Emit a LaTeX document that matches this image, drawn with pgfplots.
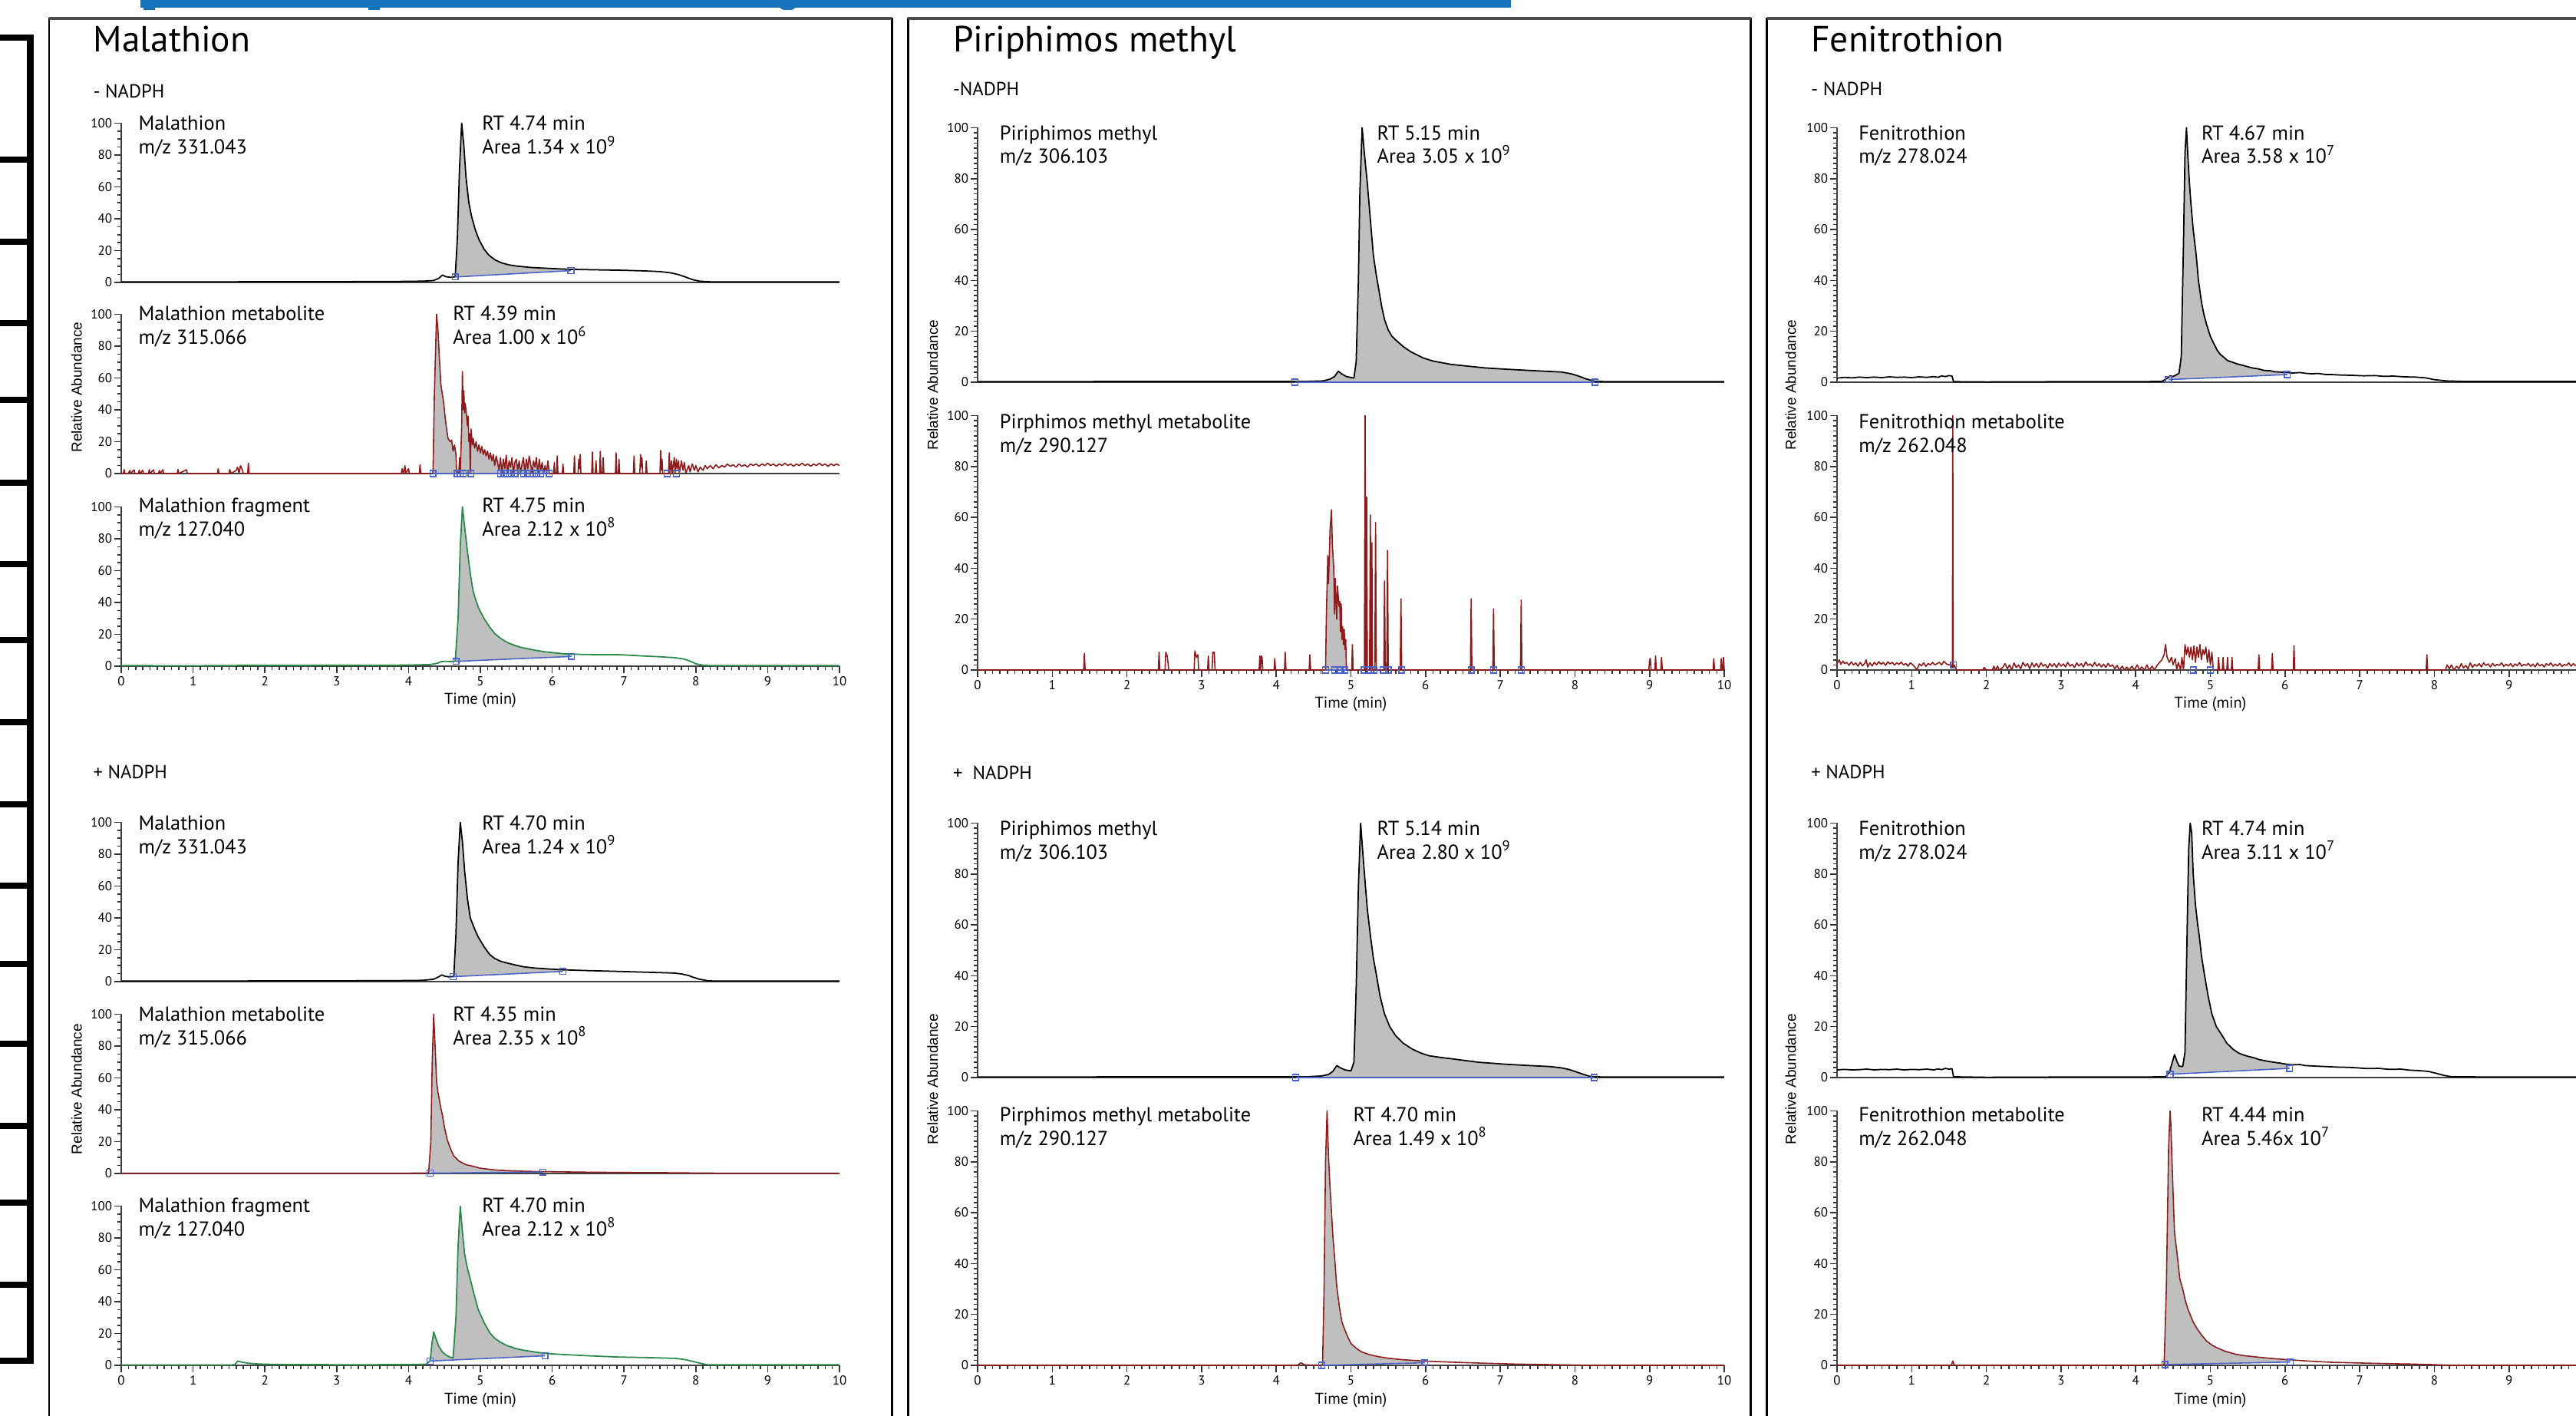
\documentclass[border=0pt]{standalone}
\usepackage{fontspec}
\setmainfont{PT Sans}
\newfontfamily\libsans{Liberation Sans}
\usepackage{pgfplots}
\pgfplotsset{compat=1.18}
\usepgfplotslibrary{fillbetween}
\definecolor{topblue}{HTML}{1473BA}
\definecolor{dred}{HTML}{8E1B1B}
\definecolor{dgrn}{HTML}{2A8A4A}
\definecolor{pkgray}{HTML}{BFBFBF}
\definecolor{mblue}{HTML}{4B63C6}
\newcommand\ttlfont{\fontsize{13.5}{16}\selectfont}
\newcommand\annfont{\fontsize{7.5}{9}\selectfont}
\newcommand\nadfont{\fontsize{7}{8}\selectfont}
\newcommand\tickfont{\fontsize{4.8}{5.5}\selectfont}
\newcommand\timefont{\fontsize{5.8}{7}\selectfont}
\newcommand\rafont{\libsans\fontsize{5.4}{6}\selectfont}

\pgfplotsset{
  chrom/.style={
    scale only axis, anchor=south west,
    xmin=0, xmax=10, ymin=0, ymax=100,
    axis x line*=bottom, axis y line*=left,
    axis line style={draw=black!75, line width=0.8pt},
    ytick={0,20,...,100},
    tick align=outside,
    major tick length=0.095cm, minor tick length=0.055cm,
    every tick/.style={black!80, line width=0.45pt},
    /pgf/number format/assume math mode=true,
    yticklabel style={font=\tickfont, inner sep=0.5pt},
    xticklabel style={font=\tickfont, inner sep=1pt},
    clip=false, set layers,
  },
  p1/.style={chrom, width=9.36cm, height=2.075cm, minor y tick num=3},
  p23/.style={chrom, width=9.73cm, height=3.315cm, minor y tick num=9},
  nox/.style={xtick=\empty},
  botx/.style={xtick={0,...,10}, minor x tick num=9, xlabel={Time (min)},
    xlabel style={font=\timefont, at={(axis description cs:0.5,0)}, anchor=center, yshift=-0.45cm}},
  cut10/.style={xticklabels={0,1,2,3,4,5,6,7,8,9,{}}},
  blk/.style={black, line width=0.5pt, line join=round},
  rd/.style={draw=dred, line width=0.45pt, line join=round},
  gr/.style={draw=dgrn, line width=0.5pt, line join=round},
  bl/.style={draw=mblue, line width=0.45pt, mark=square, mark size=1.1pt,
    mark options={solid, draw=mblue, line width=0.4pt, fill=none}},
  blm/.style={only marks, mark=square, mark size=1.1pt,
    mark options={solid, draw=mblue, line width=0.4pt, fill=none}},
  pk/.style={fill=pkgray, draw=none},
}

\begin{document}
\begin{tikzpicture}

% ================= Panel 1: Malathion =================
% - NADPH, parent
\begin{axis}[p1, nox, at={(1.58cm,14.77cm)}]
\addplot[blk, name path=tr] coordinates {(0,0.3)(0.5,0.3)(1,0.35)(1.6,0.4)(2,0.5)(3,0.5)(3.8,0.6)(4.2,0.8)(4.35,1.2)(4.42,2.5)(4.47,4.6)(4.52,3.6)(4.58,3.2)(4.65,3.5)(4.68,28)(4.71,72)(4.74,100)(4.77,86)(4.8,66)(4.84,50)(4.88,41)(4.93,33)(4.98,27)(5.05,21)(5.12,17)(5.21,14)(5.3,12.2)(5.4,11)(5.5,10.3)(5.7,9.4)(6.0,8.7)(6.26,8.2)(6.5,8.0)(7.0,7.6)(7.3,7.2)(7.5,6.8)(7.65,6)(7.75,5)(7.85,3.5)(7.95,1.8)(8.05,0.8)(8.2,0.4)(9,0.4)(10,0.4)};
\addplot[bl, name path=bs] coordinates {(4.65,3.4)(6.26,7.4)};
\addplot[pk] fill between[of=tr and bs, soft clip={domain=4.65:6.26}];
\end{axis}
% - NADPH, metabolite
\begin{axis}[p1, nox, at={(1.58cm,12.28cm)}]
\addplot[rd, name path=tr] coordinates {(0,0)(0.03,0)(0.04,2.5)(0.05,0)(0.1,0)(0.12,2)(0.13,0)(0.18,2.3)(0.19,0)(0.24,0)(0.25,2.2)(0.26,0)(0.3,2)(0.31,0)(0.38,0)(0.39,2.5)(0.4,0)(0.45,2.3)(0.46,0)(0.52,0)(0.53,2)(0.54,0)(0.58,2.4)(0.59,0)(0.78,0)(0.79,2.5)(0.8,0)(0.91,2.4)(0.92,0)(1.34,0)(1.35,3)(1.36,0)(1.5,0)(1.51,2.5)(1.53,0)(1.6,2)(1.62,4)(1.64,0)(1.66,5)(1.68,3)(1.7,0)(1.76,0)(1.77,6.5)(1.78,0)(3.9,0)(3.91,3)(3.93,0)(3.95,5)(3.96,0)(4.0,3)(4.01,0)(4.15,0)(4.16,5.5)(4.17,0)(4.34,0)(4.36,50)(4.39,100)(4.41,90)(4.43,72)(4.45,56)(4.47,50)(4.49,44)(4.51,35)(4.53,28)(4.55,22)(4.58,20)(4.6,21)(4.62,14)(4.64,18)(4.66,12)(4.67,0)(4.7,0)(4.71,10)(4.72,0)(4.74,30)(4.75,64)(4.76,40)(4.77,52)(4.78,38)(4.79,44)(4.8,40)(4.82,30)(4.83,36)(4.84,20)(4.85,25)(4.86,0)(4.87,28)(4.89,18)(4.9,22)(4.92,16)(4.94,20)(4.96,14)(4.98,18)(5.0,13)(5.02,17)(5.04,12)(5.06,15)(5.08,11)(5.1,14)(5.12,9)(5.14,13)(5.16,8)(5.18,12)(5.2,5)(5.22,11)(5.24,7)(5.26,2)(5.28,10)(5.3,0)(5.32,9)(5.34,3)(5.36,11.5)(5.38,0)(5.4,8)(5.42,4)(5.44,10)(5.46,0)(5.48,7)(5.5,9)(5.52,2)(5.54,8)(5.56,0)(5.58,6)(5.6,10)(5.62,0)(5.64,9)(5.66,3)(5.68,11)(5.7,6)(5.72,0)(5.74,8)(5.76,4)(5.78,10)(5.8,0)(5.82,9)(5.84,2)(5.86,7)(5.88,0)(5.9,5)(5.92,0)(5.94,8)(5.96,0)(6.02,0)(6.03,7)(6.04,0)(6.06,0)(6.07,11)(6.08,0)(6.14,0)(6.15,6)(6.16,0)(6.3,0)(6.31,11)(6.32,0)(6.36,0)(6.37,9)(6.38,3)(6.39,12)(6.4,0)(6.55,0)(6.56,13.5)(6.57,0)(6.6,0)(6.61,8)(6.62,0)(6.66,0)(6.67,14)(6.68,0)(6.7,0)(6.71,10)(6.72,0)(6.88,0)(6.89,13)(6.9,0)(6.92,0)(6.93,9)(6.94,0)(7.13,0)(7.14,11)(7.15,0)(7.22,0)(7.23,12)(7.24,4)(7.25,10)(7.26,0)(7.3,0)(7.31,8)(7.32,0)(7.5,0)(7.51,14.5)(7.52,2)(7.53,9)(7.54,0)(7.62,0)(7.63,13)(7.64,0)(7.66,8)(7.67,0)(7.7,10)(7.71,0)(7.73,9)(7.74,3)(7.76,8)(7.77,0)(7.8,8)(7.82,2)(7.84,7)(7.86,0)(7.9,5)(7.92,1)(7.95,6)(7.98,2)(8.0,5)(8.03,1)(8.06,4)(8.1,2)(8.13,5)(8.16,3)(8.2,5)(8.24,3)(8.28,5.5)(8.32,3.5)(8.36,5)(8.4,4)(8.44,6)(8.48,4.5)(8.52,5.5)(8.56,4)(8.6,6)(8.64,4.5)(8.68,5.5)(8.72,4)(8.76,6)(8.8,5)(8.84,6)(8.88,4.5)(8.92,6)(8.96,5)(9.0,6.5)(9.04,5)(9.08,6)(9.12,4.5)(9.16,6)(9.2,5)(9.24,6.5)(9.28,5)(9.32,6)(9.36,4.5)(9.4,6)(9.44,5)(9.48,6.5)(9.52,5)(9.56,6)(9.6,4.5)(9.64,6)(9.68,5)(9.72,6.5)(9.76,5)(9.8,6)(9.84,4.5)(9.88,6)(9.92,5)(9.96,6)(10,5)};
\addplot[bl, name path=bs] coordinates {(4.34,0)(4.68,0)(4.72,0)(4.76,0)(4.87,0)(5.28,0)(5.33,0)(5.38,0)(5.43,0)(5.48,0)(5.6,0)(5.66,0)(5.72,0)(5.78,0)(5.84,0)(5.96,0)};
\addplot[blm] coordinates {(7.6,0)(7.73,0)};
\addplot[pk] fill between[of=tr and bs, soft clip={domain=4.34:5.96}];
\end{axis}
% - NADPH, fragment
\begin{axis}[p1, botx, at={(1.58cm,9.77cm)}]
\addplot[gr, name path=tr] coordinates {(0,0.3)(0.4,0.3)(0.8,0.2)(1.2,0.3)(1.6,0.3)(1.62,0.6)(2,0.5)(2.5,0.5)(3,0.6)(3.5,0.5)(4,0.7)(4.3,1.0)(4.4,1.8)(4.45,2.8)(4.5,3.0)(4.58,2.9)(4.65,3.1)(4.69,30)(4.72,75)(4.75,100)(4.78,88)(4.82,72)(4.86,58)(4.9,47)(4.94,41)(4.98,36)(5.05,30)(5.13,24.5)(5.2,20.5)(5.28,17.5)(5.37,15)(5.45,13.5)(5.55,12)(5.65,11)(5.76,10)(5.9,9)(6.05,8.3)(6.15,7.8)(6.3,7.5)(6.5,7.3)(6.7,7.2)(6.93,7.2)(7.1,6.8)(7.3,6.3)(7.5,5.9)(7.71,5.3)(7.82,4.6)(7.9,3.5)(8.0,1.5)(8.1,0.6)(8.2,0.3)(9,0.3)(10,0.3)};
\addplot[bl, name path=bs] coordinates {(4.66,3.0)(6.27,6.1)};
\addplot[pk] fill between[of=tr and bs, soft clip={domain=4.66:6.27}];
\end{axis}
% + NADPH, parent
\begin{axis}[p1, nox, at={(1.58cm,5.66cm)}]
\addplot[blk, name path=tr] coordinates {(0,0.3)(1,0.3)(1.6,0.35)(2,0.5)(3,0.5)(3.8,0.6)(4.2,0.8)(4.35,1.5)(4.42,3.0)(4.46,4.2)(4.51,3.3)(4.57,3.0)(4.63,3.2)(4.66,30)(4.69,75)(4.72,100)(4.75,88)(4.78,70)(4.82,52)(4.86,40)(4.92,33)(4.97,28)(5.05,22)(5.13,17)(5.2,14.5)(5.28,12.8)(5.37,11.7)(5.5,10.3)(5.6,9.3)(5.76,8.5)(6.0,7.8)(6.15,7.4)(6.5,6.9)(6.93,6.4)(7.3,5.9)(7.6,5.5)(7.71,5.3)(7.8,4.8)(7.9,3.8)(7.95,2.9)(8.05,1.5)(8.17,0.5)(8.3,0.3)(9,0.3)(10,0.3)};
\addplot[bl, name path=bs] coordinates {(4.62,3.1)(6.15,6.4)};
\addplot[pk] fill between[of=tr and bs, soft clip={domain=4.62:6.15}];
\end{axis}
% + NADPH, metabolite
\begin{axis}[p1, nox, at={(1.58cm,3.16cm)}]
\addplot[rd, name path=tr] coordinates {(0,0.2)(1,0.2)(2,0.2)(3,0.2)(4,0.2)(4.28,0.3)(4.31,20)(4.33,70)(4.35,100)(4.37,80)(4.39,58)(4.41,51)(4.43,46)(4.45,41)(4.47,37)(4.5,29)(4.54,21)(4.58,16)(4.63,11)(4.7,7.8)(4.8,5.5)(4.9,4.5)(5.0,3.3)(5.2,2.2)(5.4,1.7)(5.6,1.4)(5.84,1.2)(6.15,1.0)(6.5,0.8)(7.0,0.6)(7.5,0.5)(8.0,0.3)(8.3,0.2)(9,0.2)(10,0.2)};
\addplot[bl, name path=bs] coordinates {(4.3,0.2)(5.87,0.9)};
\addplot[pk] fill between[of=tr and bs, soft clip={domain=4.3:5.87}];
\end{axis}
% + NADPH, fragment
\begin{axis}[p1, botx, at={(1.58cm,0.66cm)}]
\addplot[gr, name path=tr] coordinates {(0,0.2)(0.8,0.2)(1.58,0.3)(1.62,2.7)(1.7,1.8)(1.8,1.2)(1.9,0.9)(2.0,0.7)(2.3,0.5)(3,0.4)(3.5,0.4)(4,0.5)(4.25,0.7)(4.3,3)(4.33,15)(4.35,21)(4.38,17)(4.42,12)(4.47,8.5)(4.52,6.5)(4.57,5.3)(4.62,4.6)(4.66,30)(4.69,75)(4.72,100)(4.75,84)(4.78,70)(4.82,61)(4.86,54)(4.91,45)(4.97,35)(5.05,27)(5.13,20.5)(5.2,17)(5.28,14.5)(5.37,12.4)(5.5,10.5)(5.6,9.5)(5.76,8.4)(5.9,7.5)(6.15,6.8)(6.5,6.0)(6.93,5.2)(7.3,4.9)(7.71,4.4)(7.85,3.6)(8.0,2.0)(8.1,0.9)(8.17,0.3)(9,0.3)(10,0.3)};
\addplot[bl, name path=bs] coordinates {(4.3,2.7)(5.9,6.0)};
\addplot[pk] fill between[of=tr and bs, soft clip={domain=4.3:5.9}];
\end{axis}

% ================= Panel 2: Piriphimos methyl =================
\begin{axis}[p23, nox, at={(12.74cm,13.47cm)}]
\addplot[blk, name path=tr] coordinates {(0,0.2)(1,0.2)(2,0.3)(3,0.3)(4,0.3)(4.4,0.3)(4.63,0.5)(4.72,1.2)(4.78,2.2)(4.83,4.3)(4.88,3.2)(4.94,2.2)(5.04,1.6)(5.07,8)(5.1,40)(5.12,75)(5.15,100)(5.18,90)(5.22,78)(5.26,64)(5.3,50)(5.34,42)(5.37,37)(5.41,30)(5.45,24.6)(5.5,20.5)(5.55,18)(5.6,16.6)(5.7,14)(5.8,12)(5.9,10.5)(5.97,9.5)(6.1,8.3)(6.34,7)(6.6,6.2)(6.8,5.6)(7.08,5.1)(7.4,4.6)(7.6,4.3)(7.82,4)(7.95,3.3)(8.04,2.5)(8.15,1.3)(8.27,0.3)(8.5,0.2)(9,0.2)(10,0.2)};
\addplot[bl, name path=bs] coordinates {(4.25,0)(8.27,0)};
\addplot[pk] fill between[of=tr and bs, soft clip={domain=4.25:8.27}];
\end{axis}
\begin{axis}[p23, botx, at={(12.74cm,9.72cm)}]
\addplot[rd, name path=tr] coordinates {(0,0)(1.42,0)(1.43,6.5)(1.44,0)(2.42,0)(2.43,7)(2.44,0)(2.51,0)(2.52,7)(2.54,5.5)(2.56,0)(2.9,0)(2.91,7.5)(2.93,5)(2.95,6)(2.96,0)(3.08,0)(3.09,5.5)(3.1,0)(3.14,0)(3.15,7)(3.16,6.5)(3.17,7)(3.18,0)(3.77,0)(3.78,5.5)(3.79,0)(3.8,5.5)(3.81,5)(3.82,0)(3.97,0)(3.98,4.5)(3.99,0)(4.11,0)(4.12,7)(4.13,0)(4.44,0)(4.45,6)(4.46,0)(4.66,0)(4.67,20)(4.69,45)(4.7,34)(4.72,55)(4.74,63)(4.75,50)(4.77,40)(4.78,22)(4.79,36)(4.81,20)(4.82,33)(4.84,25)(4.85,27)(4.86,15)(4.87,26)(4.88,12)(4.89,17)(4.9,10)(4.91,16)(4.92,8)(4.93,12)(4.94,0)(5.01,0)(5.02,10)(5.03,0)(5.18,0)(5.19,100)(5.2,0)(5.21,68)(5.22,0)(5.25,0)(5.26,61)(5.27,0)(5.28,50)(5.29,0)(5.32,0)(5.33,58)(5.34,0)(5.44,0)(5.45,35)(5.46,0)(5.48,0)(5.49,47)(5.5,0)(5.66,0)(5.67,28)(5.68,0)(6.6,0)(6.61,28)(6.62,0)(6.9,0)(6.91,24)(6.92,0)(7.27,0)(7.28,27.5)(7.29,0)(8.99,0)(9.0,4)(9.01,4.5)(9.02,0)(9.07,0)(9.08,5.5)(9.09,0)(9.15,0)(9.16,5)(9.17,0)(9.85,0)(9.86,4.5)(9.87,0)(9.95,0)(9.96,4.5)(9.97,0)(9.98,0)(9.99,5)(10,0)};
\addplot[draw=mblue, line width=0.45pt, name path=bs] coordinates {(4.66,0)(4.94,0)};
\addplot[blm] coordinates {(4.66,0)(4.78,0)(4.86,0)(4.92,0)(5.18,0)(5.26,0)(5.31,0)(5.43,0)(5.5,0)(5.68,0)(6.61,0)(6.91,0)(7.28,0)};
\addplot[pk] fill between[of=tr and bs, soft clip={domain=4.66:4.94}];
\end{axis}
\begin{axis}[p23, nox, at={(12.74cm,4.41cm)}]
\addplot[blk, name path=tr] coordinates {(0,0.2)(1,0.2)(2,0.3)(3,0.3)(4,0.3)(4.4,0.3)(4.6,0.6)(4.7,1.2)(4.76,2.5)(4.81,4.7)(4.86,3.8)(4.92,3)(5.0,2.6)(5.04,6)(5.07,35)(5.1,75)(5.13,100)(5.16,88)(5.19,76.7)(5.22,66)(5.26,56)(5.3,47)(5.34,40.5)(5.39,32)(5.45,25)(5.52,20)(5.6,16.4)(5.7,13.5)(5.82,11.2)(5.93,9.7)(6.04,8.6)(6.2,7.9)(6.34,7.4)(6.5,6.8)(6.71,6)(6.9,5.6)(7.08,5.2)(7.4,4.7)(7.67,4.3)(7.82,3.8)(7.93,3.1)(8.04,2)(8.14,1)(8.22,0.3)(8.5,0.2)(9,0.2)(10,0.2)};
\addplot[bl, name path=bs] coordinates {(4.26,0)(8.26,0)};
\addplot[pk] fill between[of=tr and bs, soft clip={domain=4.26:8.26}];
\end{axis}
\begin{axis}[p23, botx, at={(12.74cm,0.66cm)}]
\addplot[rd, name path=tr] coordinates {(0,0)(1,0)(2,0)(3,0)(4,0)(4.28,0)(4.33,1)(4.38,0.2)(4.55,0)(4.62,0.2)(4.64,30)(4.66,80)(4.68,100)(4.7,82)(4.72,70)(4.74,60)(4.76,50)(4.78,43)(4.81,31)(4.85,22)(4.88,17)(4.92,13.8)(4.96,11)(5.0,8.6)(5.08,6.5)(5.15,5.2)(5.25,4.2)(5.37,3.4)(5.5,2.8)(5.7,2.2)(5.97,1.7)(6.3,1.3)(6.71,0.9)(7.2,0.5)(7.82,0.2)(8.2,0)(9,0)(10,0)};
\addplot[bl, name path=bs] coordinates {(4.61,0)(5.99,1.0)};
\addplot[pk] fill between[of=tr and bs, soft clip={domain=4.61:5.99}];
\end{axis}

% ================= Panel 3: Fenitrothion =================
\begin{axis}[p23, nox, at={(23.94cm,13.47cm)}]
\addplot[blk, name path=tr] coordinates {(0,1.6)(0.1,1.9)(0.2,1.7)(0.3,2.0)(0.4,1.8)(0.5,2.0)(0.6,1.8)(0.7,2.1)(0.8,1.9)(0.9,2.0)(1.0,1.8)(1.1,2.1)(1.2,1.9)(1.3,2.2)(1.35,1.9)(1.4,2.5)(1.45,2.2)(1.5,2.6)(1.54,2.4)(1.56,0.2)(2,0.1)(3,0.2)(4,0.2)(4.35,0.3)(4.42,1.5)(4.46,2.5)(4.5,2.2)(4.55,3)(4.58,3.5)(4.61,10)(4.64,55)(4.66,90)(4.68,100)(4.7,88)(4.72,78)(4.74,70)(4.77,60)(4.79,55)(4.81,50)(4.84,40)(4.88,31.7)(4.91,27)(4.95,22.6)(5.0,18)(5.04,15.5)(5.09,12.6)(5.13,11)(5.18,9.8)(5.23,8.5)(5.3,7.8)(5.38,7.0)(5.45,6.5)(5.52,5.9)(5.58,5.5)(5.65,5.2)(5.72,4.6)(5.8,4.5)(5.86,4.1)(5.92,4.0)(6.0,3.9)(6.1,3.6)(6.2,3.8)(6.27,3.5)(6.35,3.3)(6.45,3.4)(6.55,3.0)(6.62,3.0)(6.75,2.8)(6.9,2.7)(7.05,2.5)(7.2,2.6)(7.32,2.3)(7.45,2.4)(7.6,2.1)(7.75,2.0)(7.88,1.7)(8.0,1.0)(8.16,0.5)(8.4,0.3)(9,0.3)(10,0.3)};
\addplot[bl, name path=bs] coordinates {(4.44,1.0)(6.03,3.0)};
\addplot[pk] fill between[of=tr and bs, soft clip={domain=4.44:6.03}];
\end{axis}
\begin{axis}[p23, botx, cut10, at={(23.94cm,9.72cm)}]
\addplot[rd] coordinates {(0,2.5)(0.03,4)(0.05,2.2)(0.08,3.5)(0.1,2.5)(0.13,3)(0.16,1.8)(0.19,3.2)(0.22,2)(0.25,2.8)(0.28,1.5)(0.31,3)(0.34,1.6)(0.37,2.6)(0.39,4)(0.41,1.2)(0.44,2.8)(0.47,1.6)(0.5,3)(0.53,2)(0.56,3.3)(0.59,2.2)(0.62,3)(0.65,1.8)(0.68,3.2)(0.71,2.4)(0.74,3)(0.77,1.9)(0.8,2.8)(0.83,2.2)(0.86,3.1)(0.89,2)(0.92,2.6)(0.95,1.5)(0.98,2.8)(1.01,2.2)(1.04,1.2)(1.07,0)(1.1,2.4)(1.13,1.6)(1.16,2.8)(1.19,1.4)(1.22,2.6)(1.25,2)(1.28,3)(1.31,2)(1.34,2.5)(1.37,3)(1.4,2)(1.43,3.4)(1.46,2.5)(1.49,2)(1.52,2.2)(1.545,1)(1.55,100)(1.555,1)(1.57,2)(1.6,0)(1.95,0)(1.97,1)(2.0,0)(2.08,0)(2.1,1.5)(2.12,0)(2.15,1.5)(2.17,0)(2.22,1)(2.25,2.5)(2.28,0.5)(2.31,2)(2.34,0)(2.37,2.8)(2.4,1)(2.43,2)(2.46,0.5)(2.49,3)(2.52,1.5)(2.55,2.5)(2.58,0.5)(2.61,2.8)(2.64,1.2)(2.67,2.6)(2.7,1)(2.73,2.8)(2.76,1.5)(2.79,2.2)(2.82,0.8)(2.85,2.6)(2.88,1.4)(2.91,2.5)(2.94,1)(2.97,2.7)(3.0,1.5)(3.03,2.4)(3.06,1.2)(3.09,3)(3.12,1.5)(3.15,2.2)(3.18,1)(3.21,2.8)(3.24,1.6)(3.27,2.5)(3.3,1.2)(3.33,3.2)(3.36,1.8)(3.39,2.4)(3.42,1.3)(3.45,3)(3.48,1.5)(3.51,2.5)(3.54,1.2)(3.57,2.3)(3.6,1)(3.63,2.6)(3.66,1.4)(3.69,2)(3.72,0.5)(3.75,1.8)(3.78,0)(3.82,1.5)(3.85,0)(3.88,1.2)(3.91,0)(3.95,1.5)(3.98,0)(4.02,2)(4.05,0)(4.08,1.2)(4.12,0)(4.15,2)(4.18,0)(4.22,1.5)(4.25,0)(4.29,2)(4.32,3)(4.35,4)(4.38,6)(4.4,10)(4.42,5)(4.45,3)(4.48,5)(4.5,2)(4.53,4.5)(4.55,0)(4.57,3)(4.6,0)(4.62,5)(4.64,0)(4.66,10)(4.68,6)(4.7,9)(4.72,5)(4.74,9)(4.76,4)(4.78,9.5)(4.8,3)(4.82,9)(4.84,5)(4.86,10)(4.88,4)(4.9,8)(4.92,6)(4.94,9)(4.96,3)(4.98,8)(5.0,2)(5.02,7)(5.04,0)(5.1,0)(5.11,5)(5.12,0)(5.16,0)(5.17,5)(5.18,0)(5.22,0)(5.23,5)(5.24,0)(5.28,0)(5.29,5)(5.3,0)(5.64,0)(5.65,6)(5.66,0)(5.82,0)(5.83,6.5)(5.84,0)(6.11,0)(6.12,9.5)(6.13,0)(7.89,0)(7.9,6)(7.91,0)(8.15,0)(8.17,2)(8.2,0.5)(8.23,2)(8.26,0)(8.3,1.5)(8.33,0.5)(8.36,2.5)(8.39,0.8)(8.42,1.8)(8.45,0.5)(8.48,2.8)(8.51,1)(8.54,2.2)(8.57,1.5)(8.6,2.5)(8.63,1.2)(8.66,2.8)(8.69,1.8)(8.72,2.4)(8.75,1.2)(8.78,2.6)(8.81,1.5)(8.84,2.2)(8.87,1.8)(8.9,2.8)(8.93,1.4)(8.96,2.3)(8.99,1.6)(9.02,2.5)(9.05,1.3)(9.08,2.4)(9.11,1.7)(9.14,2.9)(9.17,1.5)(9.2,2.2)(9.23,1.8)(9.26,2.6)(9.29,1.4)(9.32,2.3)(9.35,1.2)(9.38,2.7)(9.41,1.6)(9.44,2.2)(9.47,1.2)(9.5,2.5)(9.53,1.8)(9.56,2.8)(9.59,1.5)(9.62,2.3)(9.65,1.6)(9.68,2.6)(9.71,1.4)(9.74,2.2)(9.77,1.8)(9.8,2.8)(9.83,1.5)(9.86,2.5)(9.89,1.7)(9.92,2.4)(9.95,1.5)(9.98,2.6)(10,2)};
\addplot[blm] coordinates {(1.56,2)(4.77,0)(5.0,0)};
\end{axis}
\begin{axis}[p23, nox, at={(23.94cm,4.41cm)}]
\addplot[blk, name path=tr] coordinates {(0,3.0)(0.1,3.2)(0.2,3.0)(0.3,3.1)(0.4,3.3)(0.5,3.0)(0.6,3.2)(0.7,3.1)(0.8,3.3)(0.9,3.0)(1.0,3.2)(1.1,3.1)(1.2,3.3)(1.3,3.0)(1.35,3.4)(1.4,3.1)(1.45,3.6)(1.5,3.3)(1.54,3.5)(1.56,0.3)(2,0.1)(3,0.2)(4,0.2)(4.4,0.3)(4.45,2)(4.49,6)(4.52,9)(4.55,6.5)(4.58,4.5)(4.63,4.3)(4.66,10)(4.69,60)(4.71,90)(4.73,100)(4.75,96)(4.77,80)(4.8,68)(4.83,60)(4.85,56)(4.88,48)(4.92,40.5)(4.97,32)(5.02,25)(5.08,20)(5.16,16.4)(5.22,13.5)(5.3,11.2)(5.38,9.6)(5.45,8.8)(5.52,8.2)(5.58,7.8)(5.66,7)(5.75,6.5)(5.85,6)(5.93,5.7)(6.0,5.3)(6.1,5.0)(6.2,5.1)(6.27,4.7)(6.4,4.5)(6.55,4.3)(6.7,4.1)(6.85,4.0)(6.97,3.8)(7.1,3.5)(7.25,3.6)(7.4,3.2)(7.55,3.3)(7.67,2.9)(7.8,2.7)(7.92,2.4)(8.02,1.7)(8.12,0.9)(8.23,0.3)(9,0.2)(10,0.2)};
\addplot[bl, name path=bs] coordinates {(4.46,1.3)(6.06,3.6)};
\addplot[pk] fill between[of=tr and bs, soft clip={domain=4.46:6.06}];
\end{axis}
\begin{axis}[p23, botx, cut10, at={(23.94cm,0.66cm)}]
\addplot[rd, name path=tr] coordinates {(0,0)(1,0)(1.53,0)(1.55,1.7)(1.57,0)(2,0)(3,0)(4,0)(4.38,0.2)(4.41,30)(4.44,85)(4.46,100)(4.47,95)(4.49,77)(4.51,60)(4.52,52)(4.55,45)(4.59,34)(4.63,30)(4.66,26)(4.7,22)(4.77,17)(4.82,14.5)(4.88,12)(4.95,9.5)(5.02,8)(5.09,6.9)(5.2,5.5)(5.35,4.3)(5.45,3.8)(5.58,3.4)(5.75,2.9)(5.9,2.5)(6.06,2.2)(6.3,1.7)(6.62,1.2)(6.9,1.0)(7.32,0.7)(7.7,0.5)(7.95,0.3)(8.23,0)(9,0)(10,0)};
\addplot[bl, name path=bs] coordinates {(4.39,0.3)(6.07,1.3)};
\addplot[pk] fill between[of=tr and bs, soft clip={domain=4.39:6.07}];
\end{axis}

% ---------- decorations and texts (pixel coordinates) ----------
\begin{scope}[x=0.01cm, y=-0.01cm, yshift=18.45cm]
  \fill[topblue] (183,0) rectangle (1970,10);
  \fill[topblue] (187,0) rectangle (202,13);
  \fill[topblue] (480,0) rectangle (495,13);
  \fill[topblue, rounded corners=2pt] (1016,-5) rectangle (1038,13);
  \fill[black] (35,45) rectangle (44,1778);
  \foreach \yy in {49,208,315,421,521,629,735,835,942,1049,1155,1257,1361,1468,1568,1675,1774}
    \fill[black] (0,\yy-4) rectangle (44,\yy+4);
  \draw[black, line width=0.7pt] (64,1860) -- (64,24) -- (1163,24) -- (1163,1860);
  \draw[black, line width=0.7pt] (1184,1860) -- (1184,24) -- (2283,24) -- (2283,1860);
  \draw[black, line width=0.7pt] (2304,1860) -- (2304,24) -- (3400,24);
  \draw[black!70, line width=0.9pt] (64,24) -- (1163,24) (1184,24) -- (2283,24) (2304,24) -- (3400,24);

  \tikzset{ttl/.style={anchor=base west, font=\ttlfont, inner sep=0pt},
           nad/.style={anchor=base west, font=\nadfont, inner sep=0pt},
           ann/.style={anchor=base west, font=\annfont, inner sep=0pt},
           ra/.style={rotate=90, anchor=center, font=\rafont, inner sep=0pt}}
  \node[ttl] at (121,68) {Malathion};
  \node[ttl] at (1242,68) {Piriphimos methyl};
  \node[ttl] at (2361,68) {Fenitrothion};
  \node[nad] at (121,128) {- NADPH};
  \node[nad] at (1242,125) {-NADPH};
  \node[nad] at (2361,125) {- NADPH};
  \node[nad] at (121,1015) {+ NADPH};
  \node[nad] at (1242,1016) {+\ \ NADPH};
  \node[nad] at (2361,1015) {+ NADPH};
  \node[ra] at (100,505) {Relative Abundance};
  \node[ra] at (100,1420) {Relative Abundance};
  \node[ra] at (1216,502) {Relative Abundance};
  \node[ra] at (1216,1407) {Relative Abundance};
  \node[ra] at (2335,502) {Relative Abundance};
  \node[ra] at (2335,1407) {Relative Abundance};
  \node[ann] at (180,170) {Malathion};            \node[ann] at (180,201) {m/z 331.043};
  \node[ann] at (628,170) {RT 4.74 min};          \node[ann] at (628,201) {Area 1.34 x 10\textsuperscript{9}};
  \node[ann] at (180,418) {Malathion metabolite}; \node[ann] at (180,449) {m/z 315.066};
  \node[ann] at (590,418) {RT 4.39 min};          \node[ann] at (590,449) {Area 1.00 x 10\textsuperscript{6}};
  \node[ann] at (180,668) {Malathion fragment};   \node[ann] at (180,699) {m/z 127.040};
  \node[ann] at (628,668) {RT 4.75 min};          \node[ann] at (628,699) {Area 2.12 x 10\textsuperscript{8}};
  \node[ann] at (180,1082) {Malathion};           \node[ann] at (180,1113) {m/z 331.043};
  \node[ann] at (628,1082) {RT 4.70 min};         \node[ann] at (628,1113) {Area 1.24 x 10\textsuperscript{9}};
  \node[ann] at (180,1331) {Malathion metabolite};\node[ann] at (180,1362) {m/z 315.066};
  \node[ann] at (590,1331) {RT 4.35 min};         \node[ann] at (590,1362) {Area 2.35 x 10\textsuperscript{8}};
  \node[ann] at (180,1580) {Malathion fragment};  \node[ann] at (180,1611) {m/z 127.040};
  \node[ann] at (628,1580) {RT 4.70 min};         \node[ann] at (628,1611) {Area 2.12 x 10\textsuperscript{8}};
  \node[ann] at (1303,183) {Piriphimos methyl};   \node[ann] at (1303,213) {m/z 306.103};
  \node[ann] at (1795,183) {RT 5.15 min};         \node[ann] at (1795,213) {Area 3.05 x 10\textsuperscript{9}};
  \node[ann] at (1303,559) {Pirphimos methyl metabolite}; \node[ann] at (1303,590) {m/z 290.127};
  \node[ann] at (1303,1089) {Piriphimos methyl};  \node[ann] at (1303,1120) {m/z 306.103};
  \node[ann] at (1795,1089) {RT 5.14 min};        \node[ann] at (1795,1120) {Area 2.80 x 10\textsuperscript{9}};
  \node[ann] at (1303,1462) {Pirphimos methyl metabolite}; \node[ann] at (1303,1493) {m/z 290.127};
  \node[ann] at (1764,1462) {RT 4.70 min};        \node[ann] at (1764,1493) {Area 1.49 x 10\textsuperscript{8}};
  \node[ann] at (2423,183) {Fenitrothion};        \node[ann] at (2423,213) {m/z 278.024};
  \node[ann] at (2870,183) {RT 4.67 min};         \node[ann] at (2870,213) {Area 3.58 x 10\textsuperscript{7}};
  \node[ann] at (2423,559) {Fenitrothion metabolite}; \node[ann] at (2423,590) {m/z 262.048};
  \node[ann] at (2423,1089) {Fenitrothion};       \node[ann] at (2423,1120) {m/z 278.024};
  \node[ann] at (2870,1089) {RT 4.74 min};        \node[ann] at (2870,1120) {Area 3.11 x 10\textsuperscript{7}};
  \node[ann] at (2423,1462) {Fenitrothion metabolite}; \node[ann] at (2423,1493) {m/z 262.048};
  \node[ann] at (2870,1462) {RT 4.44 min};        \node[ann] at (2870,1493) {Area 5.46x 10\textsuperscript{7}};
\end{scope}

\pgfresetboundingbox
\path[use as bounding box] (0,0) rectangle (33.57,18.45);
\end{tikzpicture}
\end{document}
